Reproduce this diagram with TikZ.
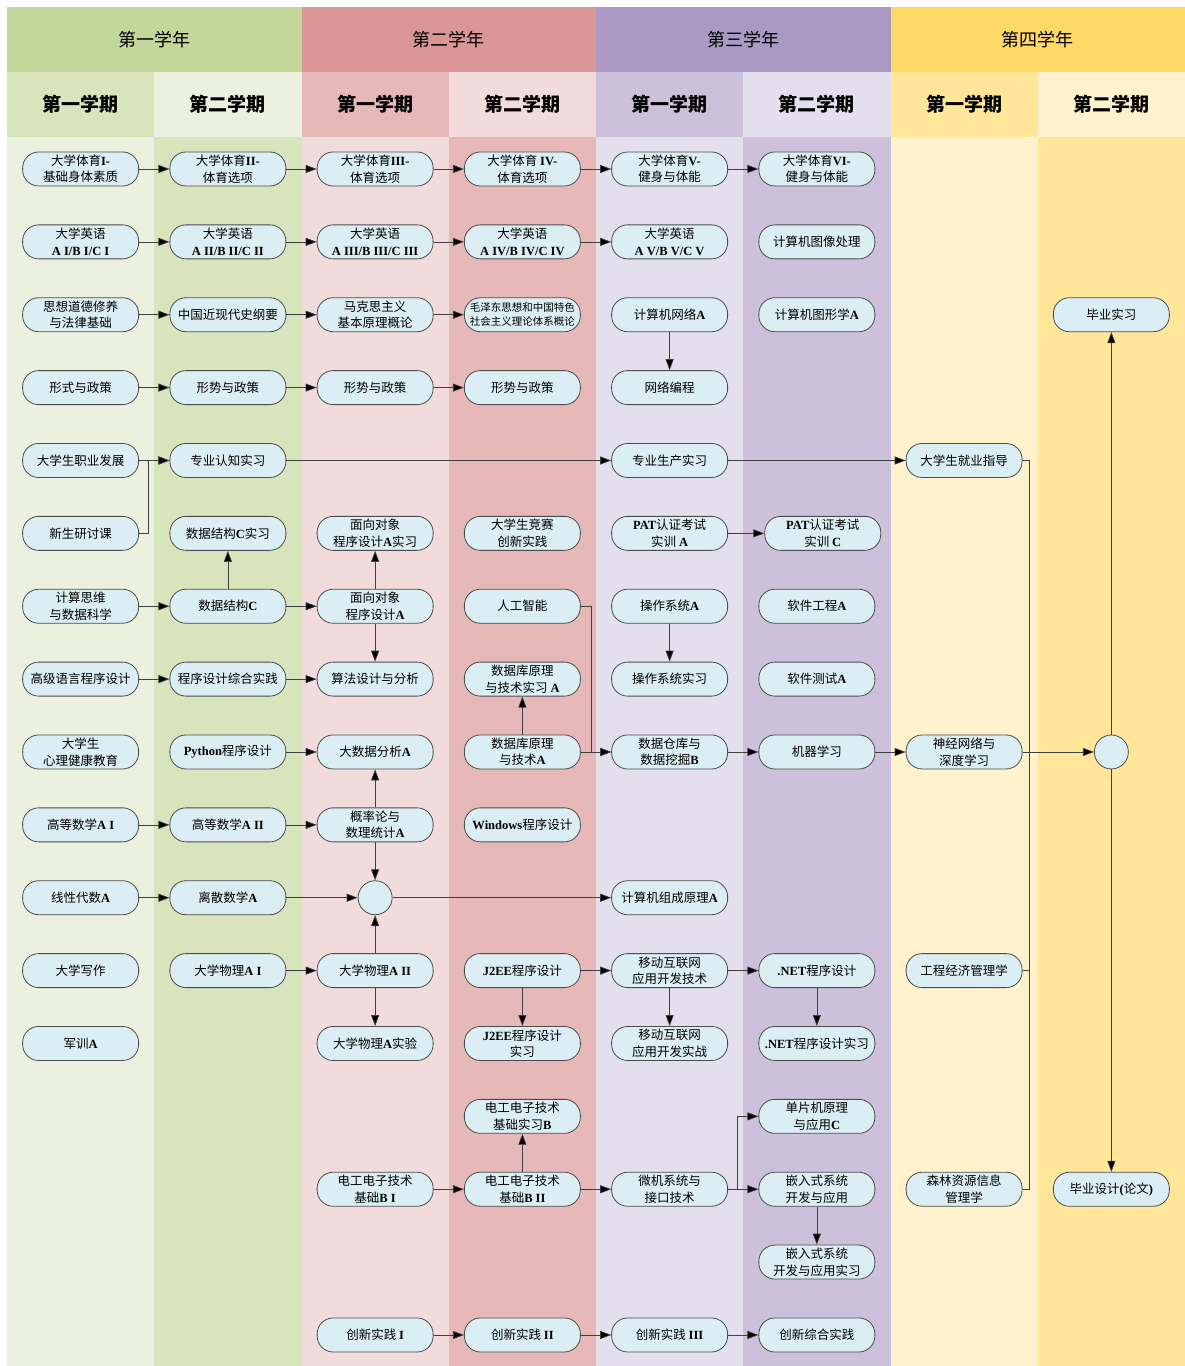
\documentclass[tikz,border=0pt]{standalone}
\usepackage{fontspec}
\setmainfont{Liberation Serif}
\newfontfamily\cjk{Noto Sans CJK SC}
\usetikzlibrary{arrows.meta}

\newcommand\eng[1]{{\rmfamily\bfseries #1}}

\definecolor{gnD}{HTML}{C4D79B}
\definecolor{gnM}{HTML}{D8E4BC}
\definecolor{gnL}{HTML}{EBF1DE}
\definecolor{rdD}{HTML}{DA9694}
\definecolor{rdM}{HTML}{E6B8B7}
\definecolor{rdL}{HTML}{F2DCDB}
\definecolor{ppD}{HTML}{AA9AC3}
\definecolor{ppM}{HTML}{CCC0DA}
\definecolor{ppL}{HTML}{E4DFEC}
\definecolor{ylD}{HTML}{FFD966}
\definecolor{ylM}{HTML}{FFE699}
\definecolor{ylL}{HTML}{FFF2CC}
\definecolor{nodeblue}{HTML}{DAEEF3}

\tikzset{
  course/.style={draw=black!70, line width=0.8pt, fill=nodeblue, rounded corners=16pt,
    minimum width=116pt, minimum height=34pt, inner sep=1pt, align=center,
    font=\cjk\fontsize{12.5}{16.5}\selectfont},
  hub/.style={circle, draw=black!70, line width=0.8pt, fill=nodeblue, minimum size=34pt, inner sep=0pt},
  link/.style={draw=black!75, line width=0.7pt, -{Triangle[length=11pt,width=8pt,fill=black]}},
  plain/.style={draw=black!75, line width=0.7pt},
  yearhead/.style={font=\cjk\fontsize{18}{18}\selectfont},
  termhead/.style={font=\cjk\bfseries\fontsize{19}{19}\selectfont},
}

\begin{document}
\begin{tikzpicture}[x=147.25pt, y=-72.875pt]
\useasboundingbox (0.4524,-1.3189) rectangle (8.5,17.426);
\fill[white] (0.4524,-1.3189) rectangle (8.5,17.426);

% years
\fill[gnD] (0.5,-1.2226) rectangle (2.5,-0.3307);
\fill[rdD] (2.5,-1.2226) rectangle (4.5,-0.3307);
\fill[ppD] (4.5,-1.2226) rectangle (6.5,-0.3307);
\fill[ylD] (6.5,-1.2226) rectangle (8.5,-0.3307);
\node[yearhead] (y1) at (1.5,-0.7767) {第一学年};
\node[yearhead] (y2) at (3.5,-0.7767) {第二学年};
\node[yearhead] (y3) at (5.5,-0.7767) {第三学年};
\node[yearhead] (y4) at (7.5,-0.7767) {第四学年};

% terms
\fill[gnM] (0.5,-0.3307) rectangle (1.5,0.561);
\fill[gnL] (1.5,-0.3307) rectangle (2.5,0.561);
\fill[rdM] (2.5,-0.3307) rectangle (3.5,0.561);
\fill[rdL] (3.5,-0.3307) rectangle (4.5,0.561);
\fill[ppM] (4.5,-0.3307) rectangle (5.5,0.561);
\fill[ppL] (5.5,-0.3307) rectangle (6.5,0.561);
\fill[ylM] (6.5,-0.3307) rectangle (7.5,0.561);
\fill[ylL] (7.5,-0.3307) rectangle (8.5,0.561);

\fill[gnL] (0.5,0.561) rectangle (1.5,17.426);
\fill[gnM] (1.5,0.561) rectangle (2.5,17.426);
\fill[rdL] (2.5,0.561) rectangle (3.5,17.426);
\fill[rdM] (3.5,0.561) rectangle (4.5,17.426);
\fill[ppL] (4.5,0.561) rectangle (5.5,17.426);
\fill[ppM] (5.5,0.561) rectangle (6.5,17.426);
\fill[ylL] (6.5,0.561) rectangle (7.5,17.426);
\fill[ylM] (7.5,0.561) rectangle (8.5,17.426);

\node[termhead] (t1) at (1,0.1153) {第一学期};
\node[termhead] (t2) at (2,0.1153) {第二学期};
\node[termhead] (t3) at (3,0.1153) {第一学期};
\node[termhead] (t4) at (4,0.1153) {第二学期};
\node[termhead] (t5) at (5,0.1153) {第一学期};
\node[termhead] (t6) at (6,0.1153) {第二学期};
\node[termhead] (t7) at (7,0.1153) {第一学期};
\node[termhead] (t8) at (8,0.1153) {第二学期};

% first year, first term
\node[course] (peA) at (1,1) {大学体育\eng{I-}\\基础身体素质};
\node[course] (enA) at (1,2) {大学英语\\\eng{A I/B I/C I}};
\node[course] (mor) at (1,3) {思想道德修养\\与法律基础};
\node[course] (polA) at (1,4) {形式与政策};
\node[course] (car) at (1,5) {大学生职业发展};
\node[course] (sem) at (1,6) {新生研讨课};
\node[course] (ct) at (1,7) {计算思维\\与数据科学};
\node[course] (hll) at (1,8) {高级语言程序设计};
\node[course] (psy) at (1,9) {大学生\\心理健康教育};
\node[course] (maA) at (1,10) {高等数学\eng{A I}};
\node[course] (la) at (1,11) {线性代数\eng{A}};
\node[course] (wr) at (1,12) {大学写作};
\node[course] (mil) at (1,13) {军训\eng{A}};

% first year, second term
\node[course] (peB) at (2,1) {大学体育\eng{II-}\\体育选项};
\node[course] (enB) at (2,2) {大学英语\\\eng{A II/B II/C II}};
\node[course] (his) at (2,3) {中国近现代史纲要};
\node[course] (polB) at (2,4) {形势与政策};
\node[course] (cog) at (2,5) {专业认知实习};
\node[course] (dsp) at (2,6) {数据结构\eng{C}实习};
\node[course] (ds) at (2,7) {数据结构\eng{C}};
\node[course] (pp) at (2,8) {程序设计综合实践};
\node[course] (py) at (2,9) {\eng{Python}程序设计};
\node[course] (maB) at (2,10) {高等数学\eng{A II}};
\node[course] (dm) at (2,11) {离散数学\eng{A}};
\node[course] (phA) at (2,12) {大学物理\eng{A I}};

% second year, first term
\node[course] (peC) at (3,1) {大学体育\eng{III-}\\体育选项};
\node[course] (enC) at (3,2) {大学英语\\\eng{A III/B III/C III}};
\node[course] (mar) at (3,3) {马克思主义\\基本原理概论};
\node[course] (polC) at (3,4) {形势与政策};
\node[course] (oop) at (3,6) {面向对象\\程序设计\eng{A}实习};
\node[course] (oo) at (3,7) {面向对象\\程序设计\eng{A}};
\node[course] (alg) at (3,8) {算法设计与分析};
\node[course] (bd) at (3,9) {大数据分析\eng{A}};
\node[course] (prob) at (3,10) {概率论与\\数理统计\eng{A}};
\node[hub] (hubA) at (3,11) {};
\node[course] (phB) at (3,12) {大学物理\eng{A II}};
\node[course] (phl) at (3,13) {大学物理\eng{A}实验};
\node[course] (eeA) at (3,15) {电工电子技术\\基础\eng{B I}};
\node[course] (inA) at (3,17) {创新实践 \eng{I}};

% second year, second term
\node[course] (peD) at (4,1) {大学体育 \eng{IV-}\\体育选项};
\node[course] (enD) at (4,2) {大学英语\\\eng{A IV/B IV/C IV}};
\node[course, font=\cjk\fontsize{10.5}{13.5}\selectfont] (mao) at (4,3) {毛泽东思想和中国特色\\社会主义理论体系概论};
\node[course] (polD) at (4,4) {形势与政策};
\node[course] (comp) at (4,6) {大学生竞赛\\创新实践};
\node[course] (ai) at (4,7) {人工智能};
\node[course] (dbp) at (4,8) {数据库原理\\与技术实习 \eng{A}};
\node[course] (db) at (4,9) {数据库原理\\与技术\eng{A}};
\node[course] (win) at (4,10) {\eng{Windows}程序设计};
\node[course] (jee) at (4,12) {\eng{J2EE}程序设计};
\node[course] (jeep) at (4,13) {\eng{J2EE}程序设计\\实习};
\node[course] (eep) at (4,14) {电工电子技术\\基础实习\eng{B}};
\node[course] (eeB) at (4,15) {电工电子技术\\基础\eng{B II}};
\node[course] (inB) at (4,17) {创新实践 \eng{II}};

% third year, first term
\node[course] (peE) at (5,1) {大学体育\eng{V-}\\健身与体能};
\node[course] (enE) at (5,2) {大学英语\\\eng{A V/B V/C V}};
\node[course] (net) at (5,3) {计算机网络\eng{A}};
\node[course] (np) at (5,4) {网络编程};
\node[course] (prod) at (5,5) {专业生产实习};
\node[course] (patA) at (5,6) {\eng{PAT}认证考试\\实训 \eng{A}};
\node[course] (os) at (5,7) {操作系统\eng{A}};
\node[course] (osp) at (5,8) {操作系统实习};
\node[course] (dw) at (5,9) {数据仓库与\\数据挖掘\eng{B}};
\node[course] (co) at (5,11) {计算机组成原理\eng{A}};
\node[course] (mob) at (5,12) {移动互联网\\应用开发技术};
\node[course] (mobp) at (5,13) {移动互联网\\应用开发实战};
\node[course] (mc) at (5,15) {微机系统与\\接口技术};
\node[course] (inC) at (5,17) {创新实践 \eng{III}};

% third year, second term
\node[course] (peF) at (6,1) {大学体育\eng{VI-}\\健身与体能};
\node[course] (img) at (6,2) {计算机图像处理};
\node[course] (gr) at (6,3) {计算机图形学\eng{A}};
\node[course] (patC) at (6.04,6) {\eng{PAT}认证考试\\实训 \eng{C}};
\node[course] (se) at (6,7) {软件工程\eng{A}};
\node[course] (st) at (6,8) {软件测试\eng{A}};
\node[course] (ml) at (6,9) {机器学习};
\node[course] (dn) at (6,12) {\eng{.NET}程序设计};
\node[course] (dnp) at (6,13) {\eng{.NET}程序设计实习};
\node[course] (scm) at (6,14) {单片机原理\\与应用\eng{C}};
\node[course] (emb) at (6,15) {嵌入式系统\\开发与应用};
\node[course] (embp) at (6,16) {嵌入式系统\\开发与应用实习};
\node[course] (inD) at (6,17) {创新综合实践};

% fourth year
\node[course] (job) at (7,5) {大学生就业指导};
\node[course] (nn) at (7,9) {神经网络与\\深度学习};
\node[course] (eco) at (7,12) {工程经济管理学};
\node[course] (for) at (7,15) {森林资源信息\\管理学};
\node[course] (intern) at (8,3) {毕业实习};
\node[hub] (hubB) at (8,9) {};
\node[course] (thesis) at (8,15) {毕业设计\eng{(}论文\eng{)}};

% links
\draw[link] (peA) -- (peB);
\draw[link] (peB) -- (peC);
\draw[link] (peC) -- (peD);
\draw[link] (peD) -- (peE);
\draw[link] (peE) -- (peF);
\draw[link] (enA) -- (enB);
\draw[link] (enB) -- (enC);
\draw[link] (enC) -- (enD);
\draw[link] (enD) -- (enE);
\draw[link] (mor) -- (his);
\draw[link] (his) -- (mar);
\draw[link] (mar) -- (mao);
\draw[link] (polA) -- (polB);
\draw[link] (polB) -- (polC);
\draw[link] (polC) -- (polD);
\draw[link] (net) -- (np);

\draw[link] (car) -- (cog);
\draw[link] (sem.east) -- ++(9pt,0) |- (cog.west);
\draw[link] (cog) -- (prod);
\draw[link] (prod) -- (job);
\draw[link] (patA) -- (patC);

\draw[link] (ct) -- (ds);
\draw[link] (ds) -- (oo);
\draw[link] (ds) -- (dsp);
\draw[link] (oo) -- (oop);
\draw[link] (oo) -- (alg);
\draw[link] (hll) -- (pp);
\draw[link] (pp) -- (alg);
\draw[link] (os) -- (osp);
\draw[link] (ai.east) -- ++(11pt,0) |- (dw.west);
\draw[link] (db) -- (dbp);

\draw[link] (py) -- (bd);
\draw[link] (db) -- (dw);
\draw[link] (dw) -- (ml);
\draw[link] (ml) -- (nn);
\draw[link] (nn) -- (hubB);
\draw[link] (maA) -- (maB);
\draw[link] (maB) -- (prob);
\draw[link] (prob) -- (bd);
\draw[link] (prob) -- (hubA);
\draw[link] (la) -- (dm);
\draw[link] (dm) -- (hubA);
\draw[link] (hubA) -- (co);
\draw[link] (phA) -- (phB);
\draw[link] (phB) -- (hubA);
\draw[link] (phB) -- (phl);

\draw[link] (jee) -- (mob);
\draw[link] (mob) -- (dn);
\draw[link] (jee) -- (jeep);
\draw[link] (mob) -- (mobp);
\draw[link] (dn) -- (dnp);

\draw[link] (eeA) -- (eeB);
\draw[link] (eeB) -- (mc);
\draw[link] (eeB) -- (eep);
\draw[link] (mc) -- (emb);
\draw[link] (mc.east) -- ++(9pt,0) |- (scm.west);
\draw[link] (emb) -- (embp);
\draw[link] (inA) -- (inB);
\draw[link] (inB) -- (inC);
\draw[link] (inC) -- (inD);

\draw[plain] (job.east) -- ++(7pt,0) coordinate (j4) -- (j4 |- for.east) -- (for.east);
\draw[plain] (eco.east) -- (eco.east -| j4);
\draw[link] (hubB) -- (intern);
\draw[link] (hubB) -- (thesis);
\end{tikzpicture}
\end{document}
